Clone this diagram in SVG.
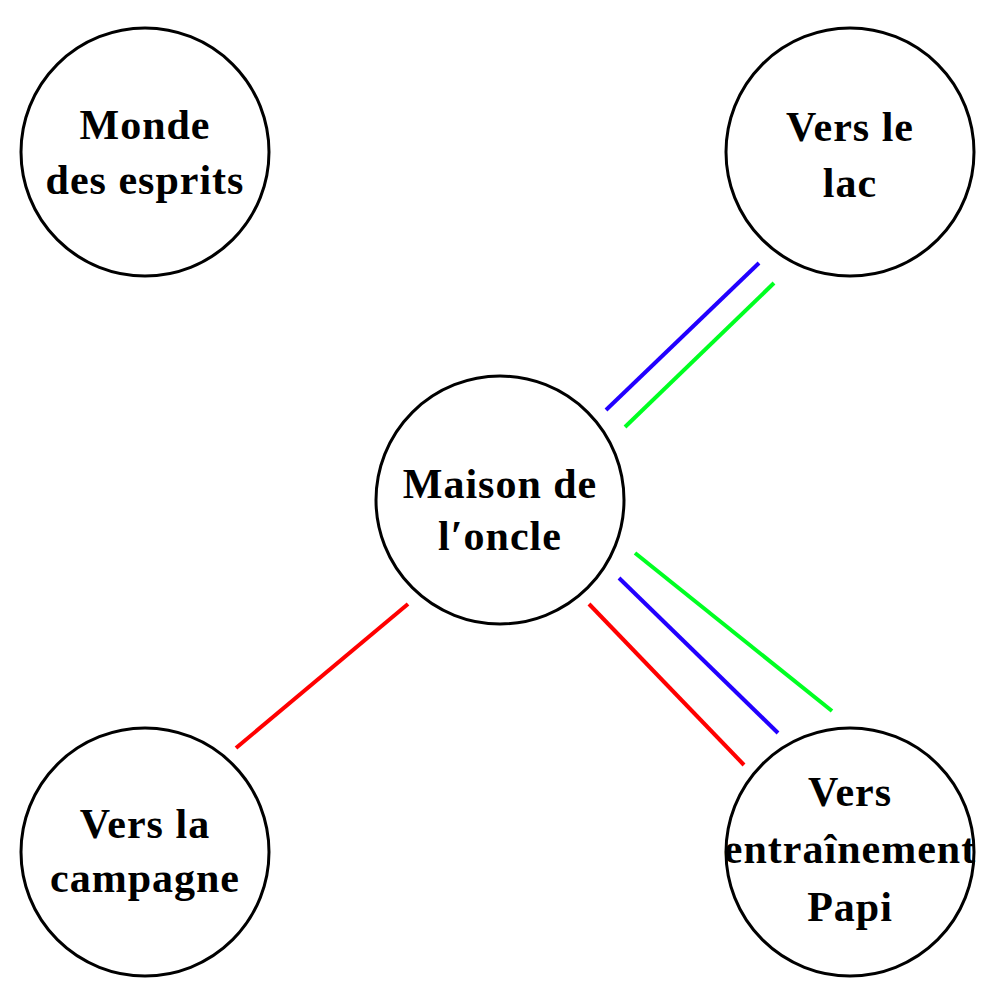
<svg xmlns="http://www.w3.org/2000/svg" width="1000" height="1000" viewBox="0 0 1000 1000">
<style>
.node circle{fill:#fff;stroke:#000;stroke-width:3}
.node text{font-family:"Liberation Serif",serif;font-weight:bold;font-size:42px;letter-spacing:1px;text-anchor:middle;fill:#000}
.edges line{stroke-width:4}
</style>
<rect width="1000" height="1000" fill="#fff"/>
<g id="edges" class="edges">
<line x1="606" y1="410" x2="759" y2="263" stroke="#2200ff"/>
<line x1="625" y1="427" x2="774" y2="283" stroke="#00ff22"/>
<line x1="236" y1="748" x2="408" y2="604" stroke="#ff0000"/>
<line x1="635" y1="553" x2="832" y2="711" stroke="#00ff22"/>
<line x1="619" y1="578" x2="778" y2="733" stroke="#2200ff"/>
<line x1="589" y1="604" x2="744" y2="765" stroke="#ff0000"/>
</g>
<g id="monde" class="node"><circle cx="145" cy="152" r="124"/><text x="145" y="139">Monde</text><text x="145" y="194">des esprits</text></g>
<g id="lac" class="node"><circle cx="850" cy="152" r="124"/><text x="850" y="141">Vers le</text><text x="850" y="197">lac</text></g>
<g id="maison" class="node"><circle cx="500" cy="500" r="124"/><text x="500" y="498">Maison de</text><text x="500" y="550">l′oncle</text></g>
<g id="campagne" class="node"><circle cx="145" cy="852" r="124"/><text x="145" y="838">Vers la</text><text x="145" y="892">campagne</text></g>
<g id="papi" class="node"><circle cx="850" cy="852" r="124"/><text x="850" y="806">Vers</text><text x="850" y="863">entraînement</text><text x="850" y="921">Papi</text></g>
</svg>
